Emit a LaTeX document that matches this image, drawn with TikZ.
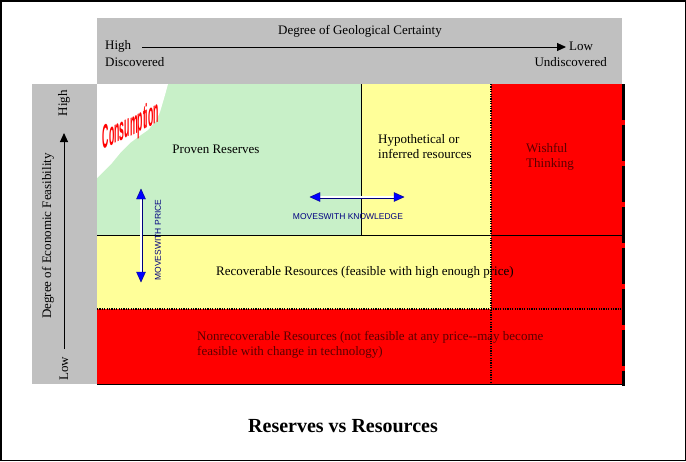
\documentclass[tikz,border=0pt]{standalone}
\usepackage{fontspec}
\setmainfont{Liberation Serif}
\newfontfamily\arialf{Liberation Sans}
\usetikzlibrary{arrows.meta}
\definecolor{boxgray}{RGB}{192,192,192}
\definecolor{provengreen}{RGB}{200,240,200}
\definecolor{lightyellow}{RGB}{255,255,153}
\definecolor{brightred}{RGB}{255,0,0}
\definecolor{darkmaroon}{RGB}{90,0,0}
\definecolor{navyline}{RGB}{0,0,128}
\definecolor{tipblue}{RGB}{0,0,255}
\tikzset{
  lbl/.style={inner sep=0pt, font=\fontsize{13}{15}\selectfont},
  lblred/.style={lbl, text=darkmaroon},
  movelbl/.style={inner sep=0pt, text=navyline, font=\arialf\fontsize{8.5}{10}\selectfont},
  axisarrow/.style={line width=1pt, -{Triangle[length=9pt,width=8pt]}},
  dblarrow/.style={navyline, line width=0.8pt, double=white, double distance=1.4pt, shorten <=8pt, shorten >=8pt},
  tipfill/.style={fill=tipblue, draw=navyline, line width=0.4pt},
  gridline/.style={black, line width=0.8pt},
  dotline/.style={black, line width=1.2pt, dash pattern=on 1.2pt off 1.2pt}
}
\begin{document}
\begin{tikzpicture}[x=1pt,y=-1pt]
\useasboundingbox (0,0) rectangle (686,461);
\fill[white] (0,0) rectangle (686,461);
\draw[black, line width=1.5pt] (0.75,0.75) rectangle (685.25,460.25);

% gray boxes
\fill[boxgray] (97,18) rectangle (622,84);
\fill[boxgray] (32,84) rectangle (97,384);

% regions
\fill[provengreen] (97,84) rectangle (361,235);
\fill[white] (97,84) -- (168,84) -- (165,95) -- (160,112) -- (156,121) -- (148,130) -- (138,137) -- (130,143) -- (121,152) -- (112,163) -- (104,171) -- (97,178) -- cycle;
\fill[lightyellow] (361,84) rectangle (491,235);
\fill[brightred] (491,84) rectangle (625,384);
\fill[lightyellow] (97,235) rectangle (491,309);
\fill[brightred] (97,309) rectangle (625,384);

% lines
\draw[gridline] (361,84) -- (361,235);
\draw[gridline] (97,235) -- (623,235);
\draw[gridline] (97,384) -- (624,384);
\draw[dotline] (491,84) -- (491,384);
\draw[dotline] (97,309) -- (623,309);
\draw[black, line width=3pt, dash pattern=on 36pt off 5pt] (623.5,84) -- (623.5,386);

% top axis
\node[lbl] (tdeg) at (360,31) {Degree of Geological Certainty};
\node[lbl, anchor=west] (thigh) at (105,46) {High};
\node[lbl, anchor=west] (tdisc) at (105,62) {Discovered};
\node[lbl, anchor=west] (tlow) at (569,46) {Low};
\node[lbl, anchor=east] (tundisc) at (607,62) {Undiscovered};
\coordinate (ta1) at (142,47);
\coordinate (ta2) at (566,47);
\draw[axisarrow] (ta1) -- (ta2);

% left axis
\node[lbl, rotate=90] (lhigh) at (64,103) {High};
\node[lbl, rotate=90] (llow) at (64,369) {Low};
\node[lbl, rotate=90] (ldeg) at (48,236) {Degree of Economic Feasibility};
\coordinate (la1) at (64,349);
\coordinate (la2) at (64,133);
\draw[axisarrow] (la1) -- (la2);

% region labels
\node[lbl] (proven) at (216,149) {Proven Reserves};
\node[lbl, anchor=west, align=left] (hyp) at (378,147) {Hypothetical or\\inferred resources};
\node[lblred, anchor=west, align=left] (wish) at (526,156.5) {Wishful\\Thinking};
\node[lbl, anchor=west] (recov) at (216,272) {Recoverable Resources (feasible with high enough price)};
\node[lblred, anchor=west, align=left] (nonrec) at (197,344.5) {Nonrecoverable Resources (not feasible at any price-{}-may become\\feasible with change in technology)};

% consumption
\begin{scope}[shift={(131,127)}]
\node[inner sep=0pt, text=brightred, font=\arialf\bfseries\fontsize{30}{30}\selectfont, cm={0.29,0.14,0,1.12,(0,0)}, transform shape] (cons) at (0,0) {Consumption};
\end{scope}

% moves with price
\coordinate (pa1) at (141,189);
\coordinate (pa2) at (141,282);
\draw[dblarrow] (pa1) -- (pa2);
\filldraw[tipfill] (pa1) -- ++(-4.5,10) -- ++(9,0) -- cycle;
\filldraw[tipfill] (pa2) -- ++(-4.5,-10) -- ++(9,0) -- cycle;
\node[movelbl, rotate=90] (price) at (158,240) {MOVESWITH PRICE};

% moves with knowledge
\coordinate (ka1) at (310,197);
\coordinate (ka2) at (404,197);
\draw[dblarrow] (ka1) -- (ka2);
\filldraw[tipfill] (ka1) -- ++(10,-4.5) -- ++(0,9) -- cycle;
\filldraw[tipfill] (ka2) -- ++(-10,-4.5) -- ++(0,9) -- cycle;
\node[movelbl] (kno) at (348,217) {MOVESWITH KNOWLEDGE};

% title
\node[inner sep=0pt, font=\bfseries\fontsize{20}{24}\selectfont] (title) at (343,426) {Reserves vs Resources};
\end{tikzpicture}
\end{document}
